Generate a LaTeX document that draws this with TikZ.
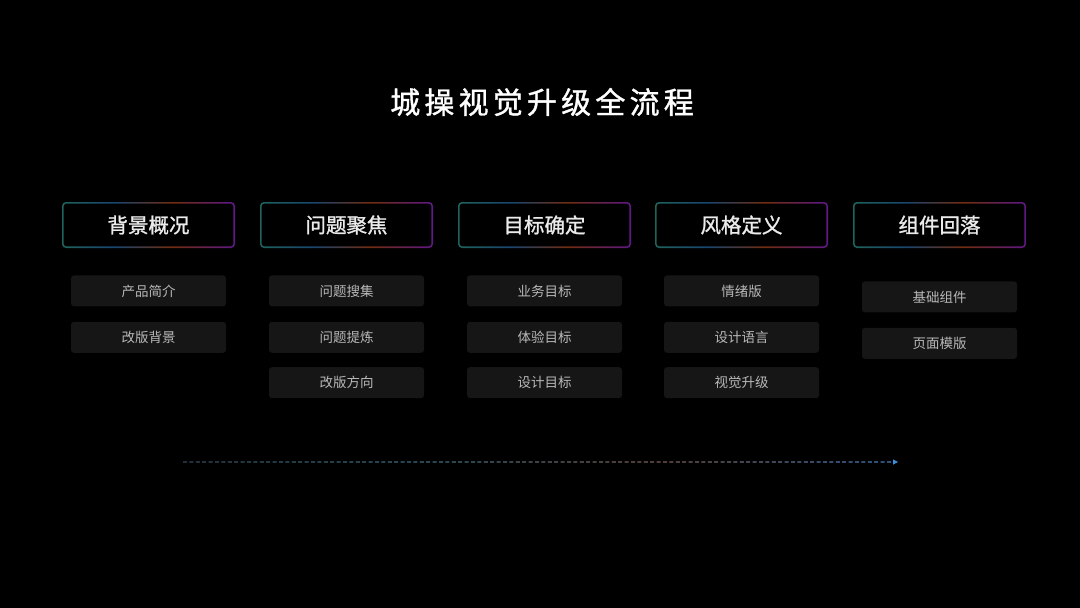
\documentclass[tikz,border=0pt]{standalone}
\usepackage{fontspec}
\setmainfont{Noto Sans CJK SC}
\newfontfamily\midfont{Noto Sans CJK SC}[FakeBold=1.2]
\usetikzlibrary{positioning,arrows.meta}

\definecolor{rimA}{HTML}{1F645C}
\definecolor{rimB}{HTML}{184670}
\definecolor{rimC}{HTML}{722C10}
\definecolor{rimD}{HTML}{601888}
\definecolor{flowA}{HTML}{34495C}
\definecolor{flowB}{HTML}{3E6E80}
\definecolor{flowC}{HTML}{7E5E56}
\definecolor{flowD}{HTML}{437CBE}
\definecolor{tipblue}{HTML}{3B8FDC}
\definecolor{subfill}{HTML}{161616}
\definecolor{subtext}{HTML}{B8B8B8}

\pgfdeclarehorizontalshading{rimshade}{100bp}{color(0bp)=(rimA); color(25bp)=(rimA); color(40bp)=(rimB); color(57bp)=(rimC); color(75bp)=(rimD); color(100bp)=(rimD)}
\pgfdeclarehorizontalshading{flowshade}{100bp}{color(0bp)=(flowA); color(25bp)=(flowA); color(42bp)=(flowB); color(58bp)=(flowC); color(75bp)=(flowD); color(100bp)=(flowD)}

\tikzset{
  stage/.style={shade, shading=rimshade, rounded corners=4pt, minimum width=173pt, minimum height=46pt,
    text=white!92!black, font=\midfont\fontsize{20.5}{20.5}\selectfont,
    path picture={\fill[black, rounded corners=3pt] ([shift={(1.6pt,-1.6pt)}]path picture bounding box.north west) rectangle ([shift={(-1.6pt,1.6pt)}]path picture bounding box.south east);}},
  substep/.style={fill=subfill, rounded corners=3pt, minimum width=155pt, minimum height=31pt,
    text=subtext, font=\fontsize{13.5}{13.5}\selectfont},
}

\begin{document}
\begin{tikzpicture}[x=1pt,y=-1pt]
        \fill[black] (0,0) rectangle (1080,608);
        \useasboundingbox (0,0) rectangle (1080,608);

        \node[text=white, font=\midfont\fontsize{30}{30}\selectfont\addfontfeature{LetterSpace=14}] (title) at (542,102) {城操视觉升级全流程};

        \node[stage] (bg) at (148.5,225) {背景概况};
        \node[stage] (wt) at (346.5,225) {问题聚焦};
        \node[stage] (mb) at (544.5,225) {目标确定};
        \node[stage] (fg) at (741.5,225) {风格定义};
        \node[stage] (zj) at (939.5,225) {组件回落};

        \node[substep, below=27pt of bg] (bg1) {产品简介};
        \node[substep, below=15pt of bg1] (bg2) {改版背景};

        \node[substep, below=27pt of wt] (wt1) {问题搜集};
        \node[substep, below=15pt of wt1] (wt2) {问题提炼};
        \node[substep, below=14pt of wt2] (wt3) {改版方向};

        \node[substep, below=27pt of mb] (mb1) {业务目标};
        \node[substep, below=15pt of mb1] (mb2) {体验目标};
        \node[substep, below=14pt of mb2] (mb3) {设计目标};

        \node[substep, below=27pt of fg] (fg1) {情绪版};
        \node[substep, below=15pt of fg1] (fg2) {设计语言};
        \node[substep, below=14pt of fg2] (fg3) {视觉升级};

        \node[substep, below=33pt of zj] (zj1) {基础组件};
        \node[substep, below=15pt of zj1] (zj2) {页面模版};

        \coordinate (flowstart) at (183,462);
        \coordinate (flowend) at (898,462);

        \begin{scope}
            \clip foreach \k in {0,...,110} {(183+\k*6.4,461.4) rectangle ++(4,1.2)};
            \shade[shading=flowshade] ([yshift=1pt]flowstart) rectangle ([yshift=-1pt]flowend);
        \end{scope}
        \draw[tipblue, line width=1pt, -{Triangle[length=5pt,width=5pt]}] ([xshift=-5pt]flowend) -- (flowend);

    \end{tikzpicture}
\end{document}
